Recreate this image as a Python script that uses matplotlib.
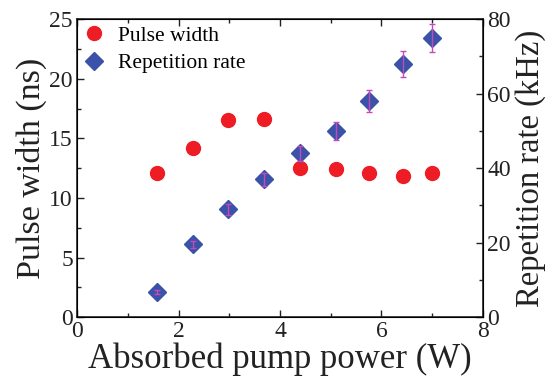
import matplotlib
matplotlib.use("Agg")
import matplotlib.pyplot as plt
from matplotlib.ticker import MultipleLocator

# absorbed pump power (W)
power = [1.57, 2.28, 2.98, 3.68, 4.40, 5.10, 5.75, 6.42, 7.00]
# pulse width (ns)
pulse_width = [12.1, 14.2, 16.5, 16.6, 12.5, 12.4, 12.1, 11.8, 12.1]
# repetition rate (kHz) and its error bars
rep_rate = [6.7, 19.5, 29.0, 37.0, 44.0, 50.0, 58.0, 68.0, 75.0]
rep_err = [0.5, 1.0, 1.5, 1.7, 2.0, 2.4, 3.0, 3.5, 3.8]

plt.rcParams['font.family'] = ['Liberation Serif', 'DejaVu Serif']

fig = plt.figure(figsize=(5.55, 3.83), dpi=100)
ax = fig.add_axes([0.139, 0.172, 0.731, 0.778])
ax2 = ax.twinx()

p1, = ax.plot(power, pulse_width, 'o', color='#ee1c24', markersize=10,
              linestyle='none', label='Pulse width')
p2, = ax2.plot(power, rep_rate, 'D', color='#3a52a8', markersize=9.5,
               linestyle='none', label='Repetition rate', zorder=2)
ax2.errorbar(power, rep_rate, yerr=rep_err, fmt='none', ecolor='#c848b8',
             elinewidth=1, capsize=2.5, capthick=1, zorder=3)

ax.set_xlim(0, 8)
ax.set_ylim(0, 25)
ax2.set_ylim(0, 80)

ax.xaxis.set_major_locator(MultipleLocator(2))
ax.xaxis.set_minor_locator(MultipleLocator(1))
ax.yaxis.set_major_locator(MultipleLocator(5))
ax.yaxis.set_minor_locator(MultipleLocator(2.5))
ax2.yaxis.set_major_locator(MultipleLocator(20))
ax2.yaxis.set_minor_locator(MultipleLocator(10))

for a in (ax, ax2):
    a.tick_params(which='both', direction='in', labelsize=17, width=1,
                  colors='#222222', pad=3)
    a.tick_params(which='major', length=5)
    a.tick_params(which='minor', length=3)
ax.tick_params(which='both', top=True)
for s in ax.spines.values():
    s.set_linewidth(1.2)
    s.set_color('#222222')

ax.set_xlabel('Absorbed pump power (W)', fontsize=25, labelpad=0, color='#222222')
ax.set_ylabel('Pulse width (ns)', fontsize=24.5, labelpad=2, color='#222222')
ax2.set_ylabel('Repetition rate (kHz)', fontsize=23.5, labelpad=3, color='#222222')

ax.legend(handles=[p1, p2], loc='upper left', frameon=False, fontsize=15.5,
          handlelength=1.0, handletextpad=0.6, borderaxespad=0.1,
          labelspacing=0.35, borderpad=0.2)

fig.savefig('out.png', dpi=100)
